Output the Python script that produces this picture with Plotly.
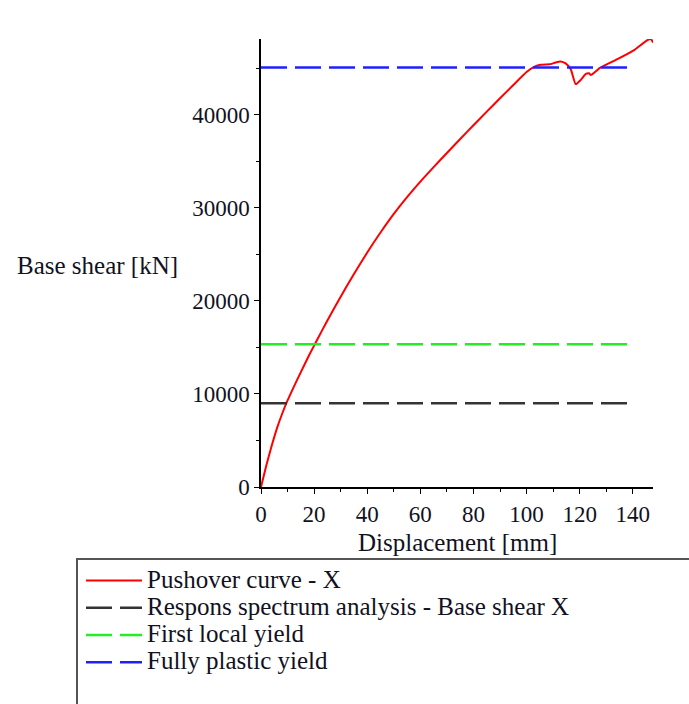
import plotly.graph_objects as go

# Pushover curve in X direction
disp_mm = [0, 2, 4, 6, 8, 10, 12, 15, 18, 21, 25, 30, 35, 40, 45, 50, 55, 60, 65,
           70, 75, 80, 85, 90, 95, 100, 103, 105.3, 109, 110.9, 112.8, 114.7, 116.6,
           118.5, 120.4, 122.3, 123.5, 124.2, 127.9, 134.2, 140.5, 145.5, 146.8, 147.6]
base_shear_kN = [0, 2300, 4400, 6300, 7900, 9300, 10550, 12350, 14100, 15750, 17900,
                 20450, 22900, 25200, 27350, 29350, 31150, 32820, 34380, 35900, 37400,
                 38880, 40340, 41780, 43200, 44600, 45180, 45390, 45450, 45630, 45740,
                 45530, 44920, 43300, 43750, 44390, 44460, 44280, 45100, 45990, 46960,
                 48030, 48140, 47780]

# Reference levels (kN), drawn over 0..140 mm
level_x = [0, 140]
rsa_base_shear = 9000
first_local_yield = 15350
fully_plastic_yield = 45100

x_ticks = [0, 20, 40, 60, 80, 100, 120, 140]
y_ticks = [0, 10000, 20000, 30000, 40000]

FONT = "Liberation Serif"
TXT = "#111122"
W, H = 689, 704
L, R, T, B = 261, 36, 39, 217


def big(label):
    return '<span style="font-size:25px">' + label + "</span>"


fig = go.Figure()
fig.add_trace(go.Scatter(x=disp_mm, y=base_shear_kN, mode="lines",
                         line=dict(color="#ff0000", width=2, shape="spline", smoothing=0.5),
                         name=big("Pushover curve - X")))
fig.add_trace(go.Scatter(x=level_x, y=[rsa_base_shear] * 2, mode="lines",
                         line=dict(color="#333333", width=2.5, dash="26px,8px"),
                         name=big("Respons spectrum analysis - Base shear X")))
fig.add_trace(go.Scatter(x=level_x, y=[first_local_yield] * 2, mode="lines",
                         line=dict(color="#22ee22", width=2.5, dash="26px,8px"),
                         name=big("First local yield")))
fig.add_trace(go.Scatter(x=level_x, y=[fully_plastic_yield] * 2, mode="lines",
                         line=dict(color="#2020ff", width=2.5, dash="26px,8px"),
                         name=big("Fully plastic yield")))

pw, ph = W - L - R, H - T - B


def px_x(p):
    return (p - L) / pw


def px_y(p):
    return (H - B - p) / ph


axis_common = dict(showgrid=False, zeroline=False, showline=True, linecolor="black",
                   linewidth=1.5, ticks="outside", ticklen=5, tickcolor="black",
                   tickfont=dict(family=FONT, size=23, color=TXT), tickformat="d")

fig.update_layout(
    width=W, height=H,
    margin=dict(l=L, r=R, t=T, b=B),
    paper_bgcolor="white", plot_bgcolor="white",
    font=dict(family=FONT, size=22, color=TXT),
    xaxis=dict(range=[0, 147.6], tickvals=x_ticks, ticklabelstandoff=1,
               minor=dict(dtick=10, ticks="outside", ticklen=3, tickcolor="black"),
               **axis_common),
    yaxis=dict(range=[0, 48150], tickvals=y_ticks,
               minor=dict(dtick=5000, ticks="outside", ticklen=3, tickcolor="black"),
               **axis_common),
    legend=dict(x=px_x(81), y=px_y(562), xanchor="left", yanchor="top",
                bgcolor="rgba(0,0,0,0)", font=dict(family=FONT, size=18.6, color=TXT),
                itemwidth=56),
    showlegend=True,
)

fig.add_annotation(text="Base shear [kN]", xref="paper", yref="paper",
                   x=px_x(15), y=px_y(265), xanchor="left", yanchor="middle",
                   showarrow=False, font=dict(family=FONT, size=25, color=TXT))
fig.add_annotation(text="Displacement [mm]", xref="paper", yref="paper",
                   x=px_x(457), y=px_y(542), xanchor="center", yanchor="middle",
                   showarrow=False, font=dict(family=FONT, size=25, color=TXT))

# Legend frame
fig.add_shape(type="rect", xref="paper", yref="paper",
              x0=px_x(77), x1=px_x(720), y0=px_y(559), y1=px_y(730),
              line=dict(color="#555555", width=2), fillcolor="rgba(0,0,0,0)")

fig.write_html("out.html")
